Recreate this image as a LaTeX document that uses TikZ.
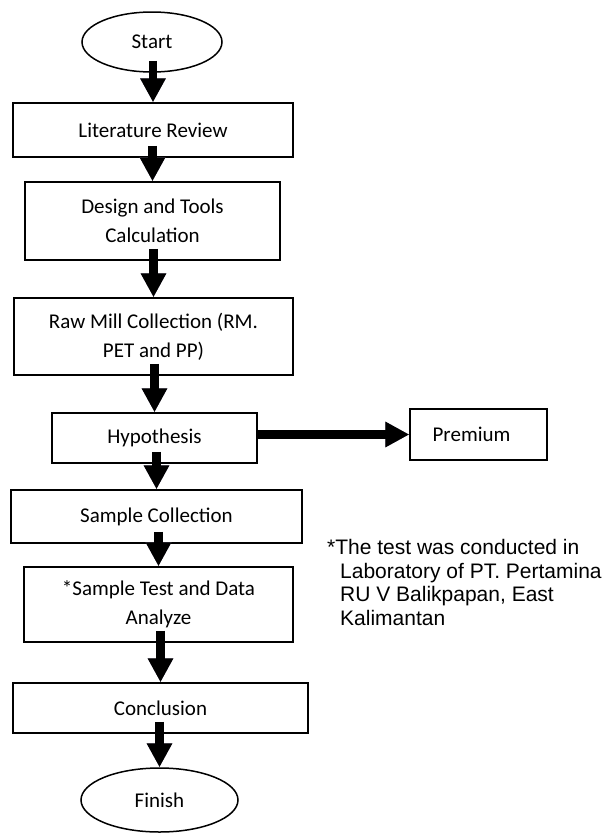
\documentclass[tikz,border=0pt]{standalone}
\usepackage{fontspec}
\setmainfont{Carlito}
\newfontfamily\notefont{Liberation Sans}
\usetikzlibrary{arrows.meta,shapes.geometric,calc}
\definecolor{shadowgray}{RGB}{150,140,170}
\tikzset{
  boxfont/.style={font=\fontsize{21}{29}\selectfont},
  procbox/.style={draw, line width=1.5pt, fill=white, rectangle, inner sep=0pt, align=center, boxfont},
  termnode/.style={draw, line width=1.5pt, fill=white, ellipse, inner sep=0pt, boxfont},
  flowarrow/.style={line width=8.5pt, -{Triangle[width=24pt,length=24pt]}},
  flowshadow/.style={line width=8.5pt, draw=shadowgray, -{Triangle[width=24pt,length=24pt]}, shadowgray, xshift=2.5pt, yshift=-2pt}
}
\begin{document}
\begin{tikzpicture}[x=1pt,y=-1pt]
\useasboundingbox (0,0) rectangle (607,833);
\fill[white] (0,0) rectangle (607,833);

\node[termnode, minimum width=140pt, minimum height=60pt] (start) at (152,42) {Start};
\node[procbox, minimum width=280pt, minimum height=54pt] (lit) at (153,130) {Literature Review};
\node[procbox, minimum width=255pt, minimum height=78pt] (design) at (152.5,221) {Design and Tools\\Calculation};
\node[procbox, minimum width=279pt, minimum height=77pt] (raw) at (153.5,336.5) {Raw Mill Collection (RM.\\PET and PP)};
\node[procbox, minimum width=205pt, minimum height=50pt] (hyp) at (154.5,438) {Hypothesis};
\node[procbox, minimum width=137pt, minimum height=51pt] (prem) at (478.5,434.5) {\hspace{-14pt}Premium};
\node[procbox, minimum width=291pt, minimum height=53pt] (sample) at (156.5,516.5) {Sample Collection};
\node[procbox, minimum width=269pt, minimum height=75pt] (test) at (158.5,604.5) {*Sample Test and Data\\Analyze};
\node[procbox, minimum width=295pt, minimum height=50pt] (concl) at (160.5,708) {Conclusion};
\node[termnode, minimum width=157pt, minimum height=64pt] (finish) at (159.5,800) {Finish};

\node[anchor=north west, inner sep=0pt, align=left, font=\notefont\fontsize{21}{23.7}\selectfont] (note) at (327,539)
  {*The test was conducted in\\\hspace{13pt}Laboratory of PT. Pertamina\\\hspace{13pt}RU V Balikpapan, East\\\hspace{13pt}Kalimantan};

% shadows
\foreach \a/\b in {start/lit, lit/design, design/raw, raw/hyp, hyp/sample, sample/test, test/concl, concl/finish}{
  \draw[flowshadow] ([yshift=12pt]\a.south -| \b.north) -- (\b.north);
}
\draw[flowshadow] (hyp.east |- prem.west) -- (prem.west);
% arrows
\foreach \a/\b in {start/lit, lit/design, design/raw, raw/hyp, hyp/sample, sample/test, test/concl, concl/finish}{
  \draw[flowarrow] ([yshift=12pt]\a.south -| \b.north) -- (\b.north);
}
\draw[flowarrow] (hyp.east |- prem.west) -- (prem.west);
\end{tikzpicture}
\end{document}
